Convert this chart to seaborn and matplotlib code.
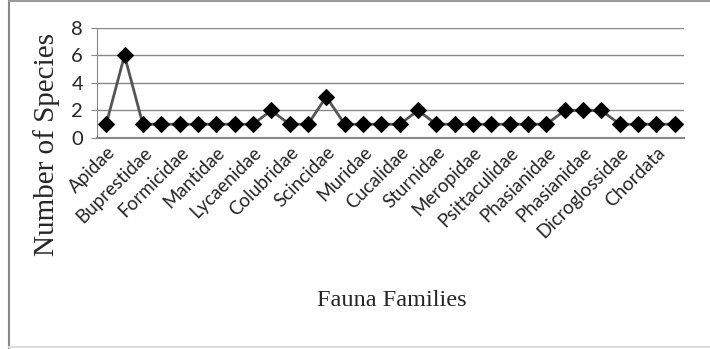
import matplotlib
matplotlib.use("Agg")
import pandas as pd
import seaborn as sns
from matplotlib import pyplot as plt
from matplotlib.lines import Line2D

# one value per family, only every other family is labelled on the axis
families = ["Apidae", "f2", "Buprestidae", "f4", "Formicidae", "f6", "Mantidae", "f8",
            "Lycaenidae", "f10", "Colubridae", "f12", "Scincidae", "f14", "Muridae", "f16",
            "Cucalidae", "f18", "Sturnidae", "f20", "Meropidae", "f22", "Psittaculidae", "f24",
            "Phasianidae", "f26", "Phasianidae ", "f28", "Dicroglossidae", "f30", "Chordata", "f32"]
species = [1, 6, 1, 1, 1, 1, 1, 1, 1, 2, 1, 1, 3, 1, 1, 1,
           1, 2, 1, 1, 1, 1, 1, 1, 1, 2, 2, 2, 1, 1, 1, 1]
yticks = [0, 2, 4, 6, 8]

df = pd.DataFrame({"family": families, "species": species})
df["pos"] = range(len(df))

sns.set_style("white")
fig = plt.figure(figsize=(7.1, 3.49), dpi=100)
ax = fig.add_axes([0.1366, 0.6046, 0.8268, 0.3152])

sns.lineplot(data=df, x="pos", y="species", ax=ax, color="#555555", linewidth=2,
             marker="D", markersize=8, markerfacecolor="black", markeredgecolor="black")

ax.set_xlim(-0.5, len(df) - 0.5)
ax.set_ylim(0, 8)
ax.set_yticks(yticks)
ax.set_yticklabels([str(v) for v in yticks], fontsize=14.5, family="Lato")
ax.set_xticks(df["pos"][::2])
ax.set_xticklabels(df["family"][::2].str.strip(), rotation=45, ha="right",
                   rotation_mode="anchor", fontsize=13.5, family="Lato")
ax.tick_params(axis="x", length=0, pad=4)
ax.tick_params(axis="y", length=4, color="#888888", pad=6, left=True)
ax.grid(axis="y", color="#888888", linewidth=1)
ax.set_axisbelow(True)
for s in ["top", "right"]:
    ax.spines[s].set_visible(False)
ax.spines["left"].set_color("#888888")
ax.spines["bottom"].set_color("#888888")
ax.spines["bottom"].set_linewidth(1.5)

ax.set_xlabel("")
ax.set_ylabel("")
fig.text(0.066, 0.585, "Number of Species", fontsize=21, family="Liberation Serif",
         rotation=90, ha="center", va="center")
fig.text(0.552, 0.14, "Fauna Families", fontsize=17.5, family="Liberation Serif",
         ha="center", va="center")

# chart frame
fig.lines.append(Line2D([0.012, 0.012], [0.004, 0.997], transform=fig.transFigure,
                        color="#888888", linewidth=1.5))
fig.lines.append(Line2D([0.012, 1.0], [0.997, 0.997], transform=fig.transFigure,
                        color="#999999", linewidth=1.5))
fig.lines.append(Line2D([0.012, 1.0], [0.006, 0.006], transform=fig.transFigure,
                        color="#dddddd", linewidth=1.5))

fig.savefig("out.png", dpi=100)
